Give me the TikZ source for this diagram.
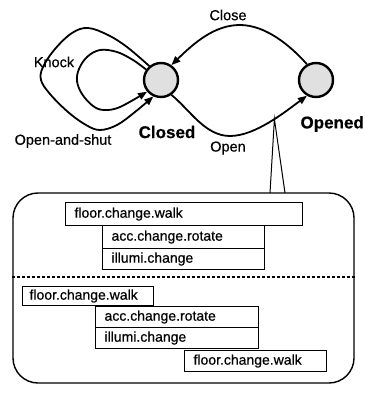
\documentclass[tikz,border=0pt]{standalone}
\usepackage{fontspec}
\setmainfont{Liberation Sans}
\newfontfamily\scanfont{Liberation Sans}[FakeBold=0.6]
\newfontfamily\scanbold{Liberation Sans Bold}[FakeBold=0.5]
\usetikzlibrary{arrows.meta}
\begin{document}
\begin{tikzpicture}[x=1pt,y=-1pt,
  state/.style={circle,draw,line width=2.4pt,fill=black!12,minimum size=34pt,inner sep=0pt},
  trans/.style={line width=1.8pt,-{Triangle[length=9pt,width=7pt]}},
  lab/.style={font=\scanfont\fontsize{14.5}{16}\selectfont,inner sep=0pt},
  slab/.style={font=\scanbold\fontsize{17}{19}\selectfont,inner sep=0pt},
  ev/.style={draw,line width=1.1pt,anchor=north west,inner xsep=9pt,inner ysep=0pt,
    align=left,font=\scanfont\fontsize{14}{16}\selectfont},
  thin line/.style={line width=1pt},
  dashline/.style={line width=1.4pt,dash pattern=on 3pt off 2pt}]
\useasboundingbox (0,0) rectangle (364,393);

% states
\node[state] (c) at (161,80) {};
\node[state] (o) at (316,80) {};
\node[slab] (cl) at (167,132) {Closed};
\node[slab,anchor=east] (ol) at (364,124) {Opened};

% Close transition
\draw[trans] (o.120) .. controls (290,45) and (265,25) .. (240,25)
  .. controls (215,25) and (195,42) .. (c.55);
% Open transition
\draw[trans] (c.-55) .. controls (190,110) and (205,136) .. (230,136)
  .. controls (255,136) and (285,112) .. (o.-120) coordinate[pos=0.56] (p);

% Open-and-shut outer loop
\draw[trans] plot[smooth,tension=0.6] coordinates {(c.130) (127,47) (108,35) (88,28) (72,33) (55,49) (43,67) (41,80) (50,94) (68,112) (86,125) (100,130) (117,125) (135,112) (c.-115)};
% Knock inner loop
\draw[trans] plot[smooth,tension=0.6] coordinates {(c.145) (133,60) (117,52) (100,50) (87,57) (79,69) (77,81) (82,94) (93,106) (104,110) (120,107) (c.-140)};

% labels
\node[lab] (lclose) at (228,15) {Close};
\node[lab] (lopen) at (228,148) {Open};
\node[lab] (lknock) at (54,62) {Knock};
\node[lab] (lshut) at (63,141) {Open-and-shut};

% box
\node[draw,line width=1.4pt,rounded corners=25pt,minimum width=341pt,minimum height=190pt,inner sep=0pt] (box) at (183.5,288) {};
\coordinate (d) at (0,277);
\draw[dashline] (box.west |- d) -- (box.east |- d);
\coordinate (b1) at (270,193);
\coordinate (b2) at (285,193);
\draw[thin line] (b1) -- (p) -- (b2);

% upper events
\node[ev,text width=219pt,minimum height=23pt] (fa) at (65,202) {floor.change.walk};
\node[ev,text width=144pt,minimum height=23pt] (aa) at (102,225) {acc.change.rotate};
\node[ev,text width=144pt,minimum height=21pt] (ia) at (102,248) {illumi.change};
% lower events
\node[ev,text width=117pt,minimum height=19pt,inner xsep=7pt] (fb) at (22,286) {floor.change.walk};
\node[ev,text width=145pt,minimum height=21pt] (ab) at (95,306) {acc.change.rotate};
\node[ev,text width=145pt,minimum height=21pt] (ib) at (95,327) {illumi.change};
\node[ev,text width=124pt,minimum height=21pt] (fc) at (184,350) {floor.change.walk};
\end{tikzpicture}
\end{document}
